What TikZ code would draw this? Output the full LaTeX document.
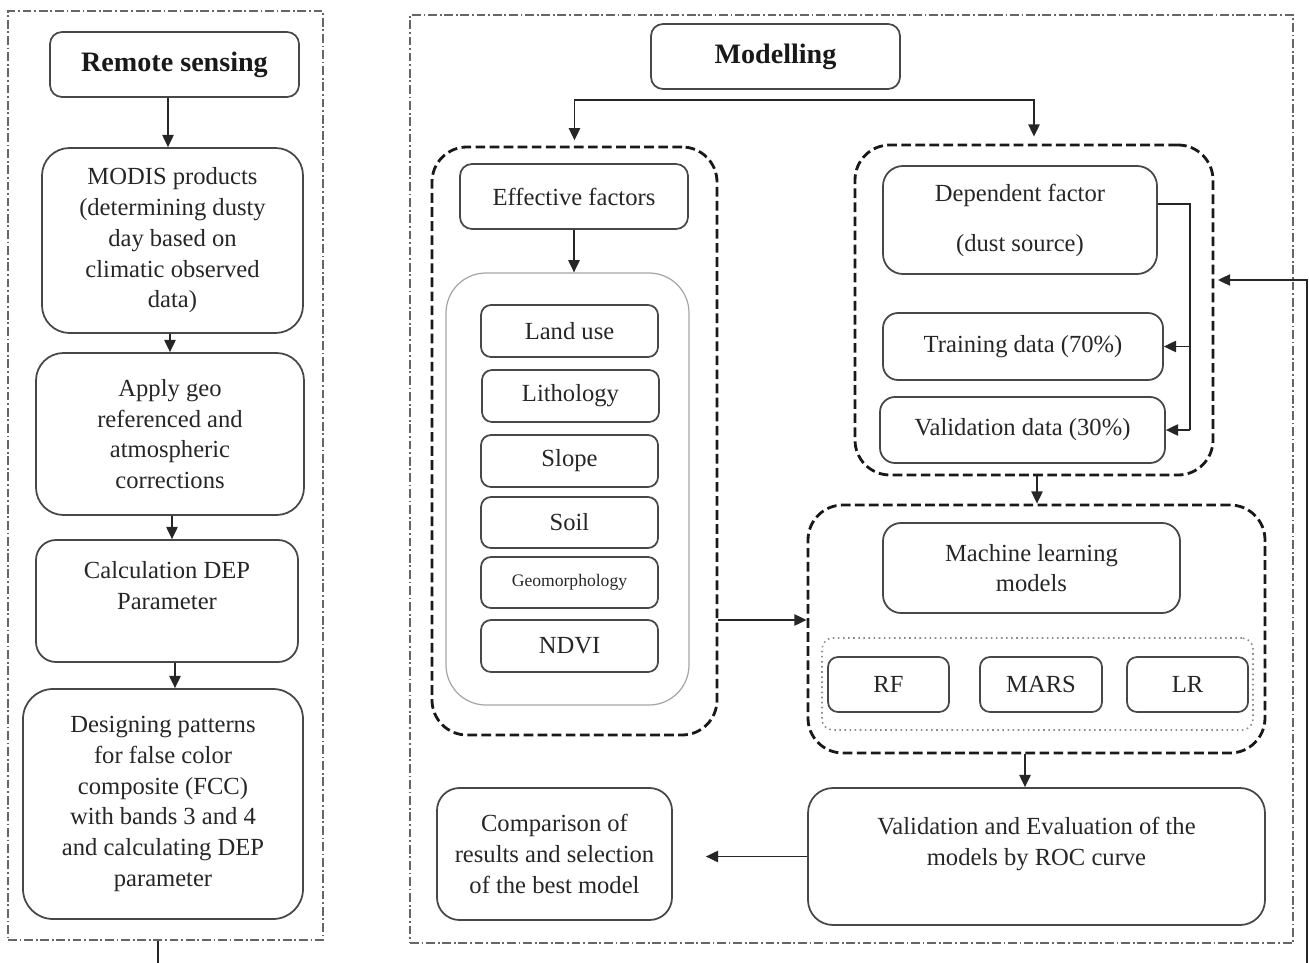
\documentclass[tikz,border=0pt]{standalone}
\usepackage{fontspec}
\setmainfont{Liberation Serif}
\usetikzlibrary{fit,arrows.meta}
\begin{document}
\begin{tikzpicture}[x=0.02cm,y=-0.02cm,
  font=\fontsize{14}{17.5}\selectfont,
  box/.style={draw=black!72, line width=1pt, rounded corners=#1, inner sep=0pt},
  box/.default=0.2cm,
  tx/.style={label={[align=center, text=black!85, inner sep=0pt]center:#1}},
  btx/.style={label={[align=center, text=black!90, inner sep=0pt, font=\fontsize{16}{19}\selectfont\bfseries]center:#1}},
  grpbox/.style={draw=black!90, line width=1.6pt, dash pattern=on 5.5pt off 2.5pt, rounded corners=0.7cm, inner sep=0pt},
  outerbox/.style={draw=black!60, line width=0.6pt, dash pattern=on 5pt off 1.6pt on 1pt off 1.6pt, inner sep=0pt},
  arr/.style={-{Triangle[length=7pt,width=6.5pt]}, line width=0.9pt, draw=black!85},
  ln/.style={line width=0.9pt, draw=black!85}]
\useasboundingbox (0,0) rectangle (1309,963);

% outer frames
\node[outerbox, fit={(8,11) (323,940)}] (lframe) {};
\node[outerbox, fit={(410,15) (1293,943)}] (rframe) {};

% ---------- left column ----------
\node[box=0.24cm, fit={(50,32) (299,97)}, btx={Remote sensing}] (rs) {};
\node[box=0.55cm, fit={(42,148) (303,333)}, tx={MODIS products\\(determining dusty\\day based on\\climatic observed\\data)}] (modis) {};
\node[box=0.55cm, fit={(36,353) (304,515)}, tx={Apply geo\\referenced and\\atmospheric\\corrections}] (apply) {};
\node[box=0.4cm, fit={(36,540) (298,662)}, tx={Calculation DEP\\Parameter\\\mbox{}}] (calc) {};
\node[box=0.6cm, fit={(23,689) (303,919)}, tx={Designing patterns\\for false color\\composite (FCC)\\with bands 3 and 4\\and calculating DEP\\parameter}] (design) {};

\draw[arr] ([xshift=-0.13cm]rs.south) -- ([xshift=-0.13cm]rs.south |- modis.north);
\draw[arr] ([xshift=-0.05cm]modis.south) -- ([xshift=-0.05cm]modis.south |- apply.north);
\draw[arr] ([xshift=0.04cm]apply.south) -- ([xshift=0.04cm]apply.south |- calc.north);
\draw[arr] ([xshift=0.16cm]calc.south) -- ([xshift=0.16cm]calc.south |- design.north);
\coordinate (lbot) at (158,963);
\draw[ln] (lbot |- lframe.south) -- (lbot);

% ---------- modelling ----------
\node[box=0.24cm, fit={(651,24) (900,89)}, btx={Modelling}] (mod) {};

% effective factors group
\node[grpbox, fit={(432,147) (717,735)}] (effg) {};
\node[draw=black!35, line width=0.7pt, rounded corners=0.8cm, inner sep=0pt, fit={(446,273) (689,705)}] (list) {};
\node[box=0.24cm, fit={(460,164) (688,229)}, tx={Effective factors}] (eff) {};
\node[box, fit={(481,305) (658,357)}, tx={Land use}] (landuse) {};
\node[box, fit={(482,370) (659,422)}, tx={Lithology}] (litho) {};
\node[box, fit={(481,435) (658,487)}, tx={Slope}] (slope) {};
\node[box, fit={(481,497) (658,548)}, tx={Soil}] (soil) {};
\node[box, fit={(481,557) (658,608)}, label={[text=black!85, inner sep=0pt, font=\fontsize{10}{12}\selectfont]center:Geomorphology}] (geo) {};
\node[box, fit={(481,620) (658,672)}, tx={NDVI}] (ndvi) {};
\draw[arr] (eff.south) -- (eff.south |- list.north);

% dependent group
\node[grpbox, fit={(855,145) (1213,475)}] (depg) {};
\node[box=0.4cm, fit={(883,166) (1157,274)}, tx={Dependent factor\\[11pt](dust source)}] (dep) {};
\node[box=0.3cm, fit={(883,313) (1163,380)}, tx={Training data (70\%)}] (train) {};
\node[box=0.3cm, fit={(880,397) (1165,463)}, tx={Validation data (30\%)}] (vald) {};
\coordinate (bus) at (1190,204);
\draw[ln] (dep.east |- bus) -- (bus) -- (bus |- vald.east);
\draw[arr] (bus |- train.east) -- (train.east);
\draw[arr] (bus |- vald.east) -- (vald.east);

% split from modelling
\coordinate (split) at (777,100);
\draw[ln] (split -| mod.south) -- (split);
\draw[arr, shorten >=3pt] (split) -| (effg.north);
\draw[arr, shorten >=4pt] (split) -| (depg.north);

% machine learning group
\node[grpbox, fit={(808,505) (1265,753)}] (mlg) {};
\node[draw=black!45, line width=0.9pt, dotted, rounded corners=0.22cm, inner sep=0pt, fit={(822,638) (1253,730)}] (models) {};
\node[box=0.36cm, fit={(883,523) (1180,613)}, tx={Machine learning\\models}] (ml) {};
\node[box, fit={(828,657) (949,712)}, tx={RF}] (rf) {};
\node[box, fit={(980,657) (1102,712)}, tx={MARS}] (mars) {};
\node[box, fit={(1127,657) (1248,712)}, tx={LR}] (lr) {};

\coordinate (effout) at (0,620);
\draw[arr] (effg.east |- effout) -- (mlg.west |- effout);
\draw[arr] ([xshift=0.06cm]depg.south) -- ([xshift=0.06cm]depg.south |- mlg.north);

% bottom row
\node[box=0.5cm, fit={(808,788) (1265,925)}, tx={Validation and Evaluation of the\\models by ROC curve\\\mbox{}}] (val) {};
\node[box=0.45cm, fit={(437,788) (672,920)}, tx={Comparison of\\results and selection\\of the best model}] (comp) {};
\draw[arr] ([xshift=-0.23cm]mlg.south) -- ([xshift=-0.23cm]mlg.south |- val.north);
\draw[arr, shorten >=0.66cm] (val.west) -- (val.west -| comp.east);

% feedback line on the right
\coordinate (fbB) at (1307,963);
\coordinate (fbT) at (1307,280);
\draw[arr, shorten >=2pt] (fbB) -- (fbT) -- (fbT -| depg.east);
\end{tikzpicture}
\end{document}
